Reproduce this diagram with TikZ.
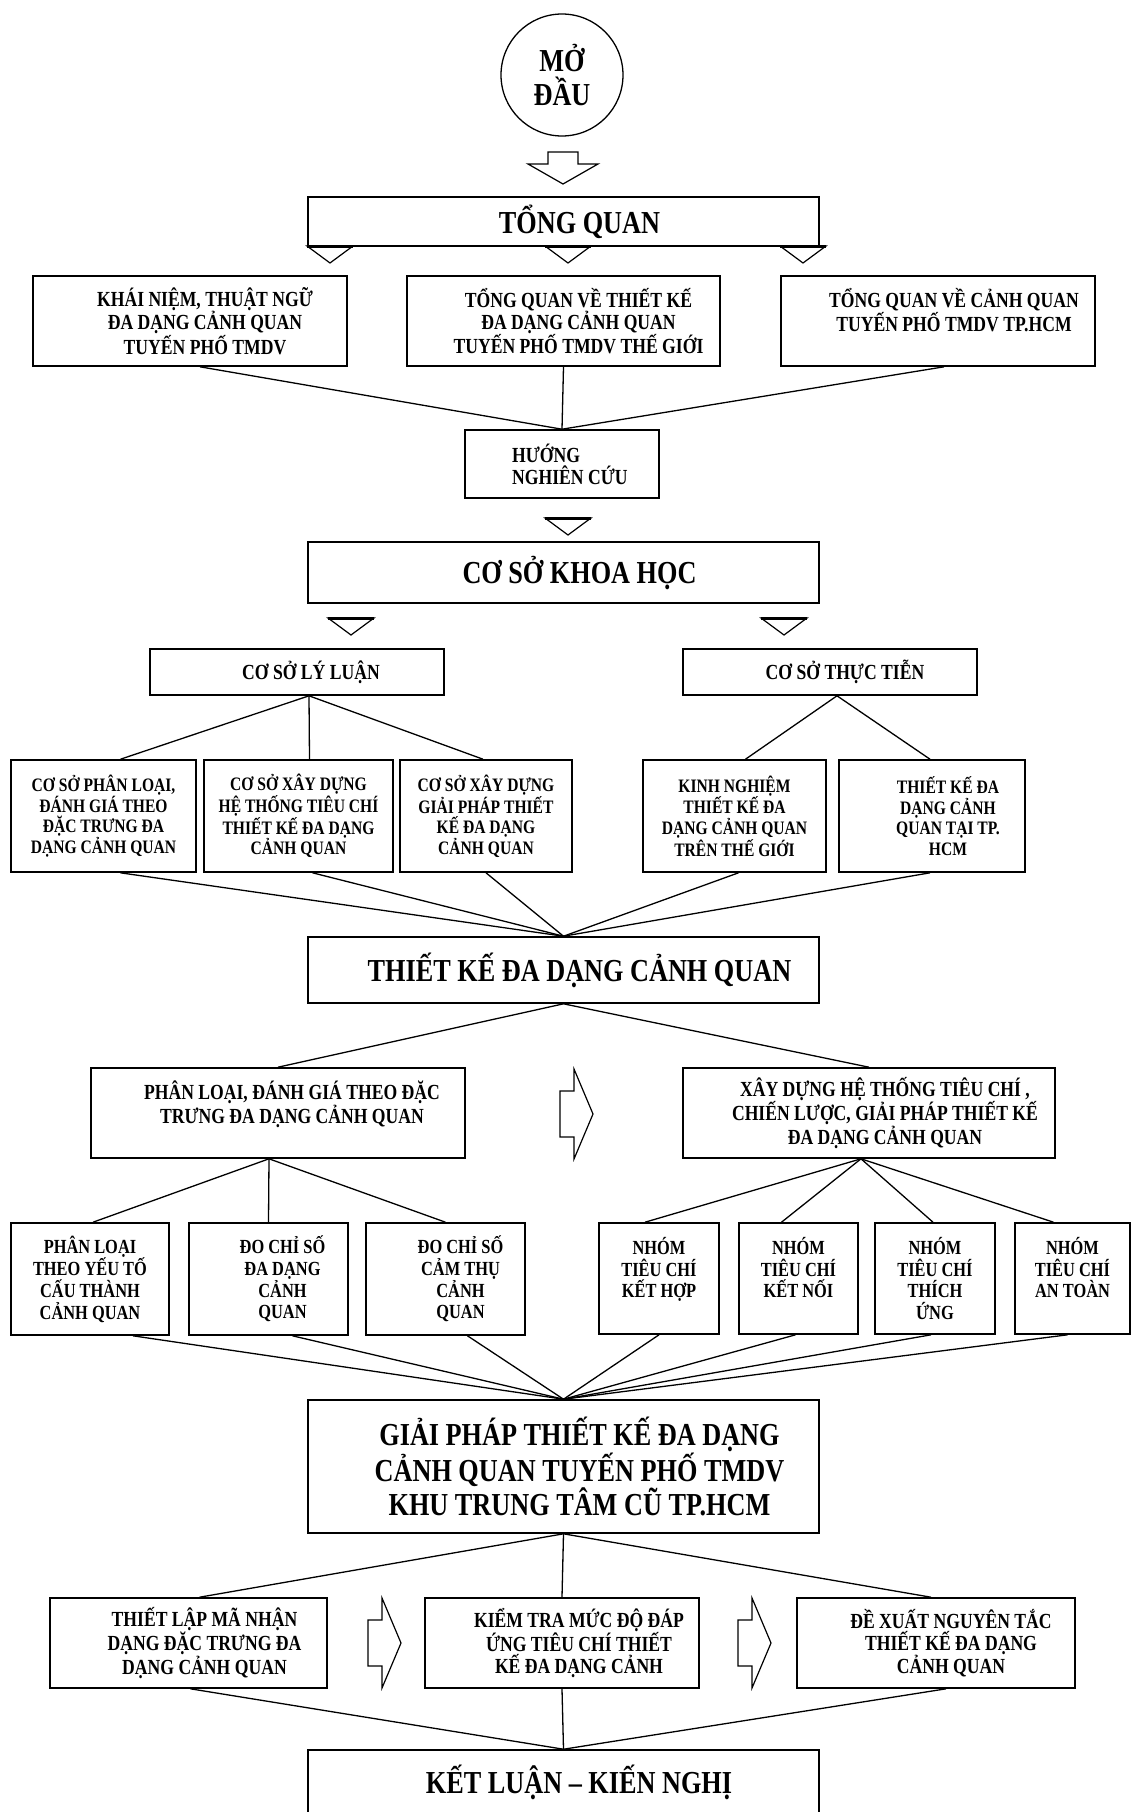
\documentclass[tikz,border=0pt]{standalone}
\usepackage{fontspec}
\newfontfamily\vnfont{Liberation Serif}[FakeStretch=0.82]
\usetikzlibrary{positioning}

\begin{document}
\begin{tikzpicture}[x=1pt,y=-1pt,
    b/.style={draw,line width=1.6pt,inner sep=0pt},
    t/.style={align=center,inner sep=0pt,font=\vnfont\bfseries\fontsize{21.5}{22}\selectfont},
    ts/.style={t,font=\vnfont\bfseries\fontsize{19}{20.5}\selectfont},
    tc/.style={t,font=\vnfont\bfseries\fontsize{20}{21.7}\selectfont},
    tb/.style={t,font=\vnfont\bfseries\fontsize{32}{34}\selectfont},
    l/.style={line width=1.3pt},
    hol/.style={draw,line width=1.2pt,fill=white,line join=miter},
    tri/.style={draw,line width=1.2pt,fill=white}]
  \fill[white] (0,0) rectangle (1133,1812);
  \useasboundingbox (0,0) rectangle (1133,1812);

  % start
  \node[b,circle,tb,line width=1.3pt,minimum size=122pt] (md) at (562,75) {MỞ\\ĐẦU};
  \draw[hol] (548,152) -- (578,152) -- (578,164) -- (598,164) -- (563,184)
    -- (528,164) -- (548,164) -- cycle;

  % tong quan
  \node[b,minimum width=511pt,minimum height=49pt] (tq) at (563.5,221.5) {};
  \node[tb] (tq-t) at ([xshift=16pt]tq.center) {TỔNG QUAN};
  \node[b,minimum width=314pt,minimum height=90pt] (kn) at (190,321) {};
  \node[t] (kn-t) at ([xshift=15pt]kn.center) {KHÁI NIỆM, THUẬT NGỮ\\ĐA DẠNG CẢNH QUAN\\TUYẾN PHỐ TMDV};
  \node[b,minimum width=313pt,minimum height=90pt] (tqtk) at (563.5,321) {};
  \node[t] (tqtk-t) at ([xshift=15pt]tqtk.center) {TỔNG QUAN VỀ THIẾT KẾ\\ĐA DẠNG CẢNH QUAN\\TUYẾN PHỐ TMDV THẾ GIỚI};
  \node[b,minimum width=314pt,minimum height=90pt] (tqcq) at (938,321) {};
  \node[t] (tqcq-t) at ([xshift=16pt]tqcq.center) {TỔNG QUAN VỀ CẢNH QUAN\\TUYẾN PHỐ TMDV TP.HCM\\~};
  \node[b,minimum width=194pt,minimum height=68pt] (hnc) at (562,464) {};
  \node[t,align=left,anchor=west] (hnc-t) at (512,464) {HƯỚNG\\NGHIÊN CỨU};

  % co so khoa hoc
  \node[b,minimum width=511pt,minimum height=61pt] (cskh) at (563.5,572.5) {};
  \node[tb] (cskh-t) at ([xshift=16pt]cskh.center) {CƠ SỞ KHOA HỌC};
  \node[b,minimum width=294pt,minimum height=46pt] (csll) at (297,672) {};
  \node[t] (csll-t) at ([xshift=14pt]csll.center) {CƠ SỞ LÝ LUẬN};
  \node[b,minimum width=294pt,minimum height=46pt] (cstt) at (830,672) {};
  \node[t] (cstt-t) at ([xshift=15pt]cstt.center) {CƠ SỞ THỰC TIỄN};
  \node[b,minimum width=185pt,minimum height=112pt] (b1) at (103.5,816) {};
  \node[ts] (b1-t) at (b1.center) {CƠ SỞ PHÂN LOẠI,\\ĐÁNH GIÁ THEO\\ĐẶC TRƯNG ĐA\\DẠNG CẢNH QUAN};
  \node[b,minimum width=189pt,minimum height=112pt] (b2) at (298.5,816) {};
  \node[ts] (b2-t) at (b2.center) {CƠ SỞ XÂY DỰNG\\HỆ THỐNG TIÊU CHÍ\\THIẾT KẾ ĐA DẠNG\\CẢNH QUAN};
  \node[b,minimum width=172pt,minimum height=112pt] (b3) at (486,816) {};
  \node[ts] (b3-t) at (b3.center) {CƠ SỞ XÂY DỰNG\\GIẢI PHÁP THIẾT\\KẾ ĐA DẠNG\\CẢNH QUAN};
  \node[b,minimum width=183pt,minimum height=112pt] (b4) at (734.5,816) {};
  \node[ts] (b4-t) at (b4.center) {KINH NGHIỆM\\THIẾT KẾ ĐA\\DẠNG CẢNH QUAN\\TRÊN THẾ GIỚI};
  \node[b,minimum width=186pt,minimum height=112pt] (b5) at (932,816) {};
  \node[ts] (b5-t) at ([xshift=16pt]b5.center) {THIẾT KẾ ĐA\\DẠNG CẢNH\\QUAN TẠI TP.\\HCM};

  % thiet ke
  \node[b,minimum width=511pt,minimum height=66pt] (tkdd) at (563.5,970) {};
  \node[tb] (tkdd-t) at ([xshift=16pt]tkdd.center) {THIẾT KẾ ĐA DẠNG CẢNH QUAN};
  \node[b,minimum width=374pt,minimum height=90pt] (pl) at (278,1113) {};
  \node[t] (pl-t) at ([xshift=14pt]pl.center) {PHÂN LOẠI, ĐÁNH GIÁ THEO ĐẶC\\TRƯNG ĐA DẠNG CẢNH QUAN\\~};
  \node[b,minimum width=372pt,minimum height=90pt] (xd) at (869,1113) {};
  \node[t] (xd-t) at ([xshift=16pt]xd.center) {XÂY DỰNG HỆ THỐNG TIÊU CHÍ ,\\CHIẾN LƯỢC, GIẢI PHÁP THIẾT KẾ\\ĐA DẠNG CẢNH QUAN};
  \node[b,minimum width=158pt,minimum height=112pt] (c1) at (90,1279) {};
  \node[tc] (c1-t) at (c1.center) {PHÂN LOẠI\\THEO YẾU TỐ\\CẤU THÀNH\\CẢNH QUAN};
  \node[b,minimum width=159pt,minimum height=112pt] (c2) at (268.5,1279) {};
  \node[tc] (c2-t) at ([xshift=14pt]c2.center) {ĐO CHỈ SỐ\\ĐA DẠNG\\CẢNH\\QUAN};
  \node[b,minimum width=159pt,minimum height=112pt] (c3) at (445.5,1279) {};
  \node[tc] (c3-t) at ([xshift=15pt]c3.center) {ĐO CHỈ SỐ\\CẢM THỤ\\CẢNH\\QUAN};
  \node[b,minimum width=120pt,minimum height=111pt] (c4) at (659,1278.5) {};
  \node[tc] (c4-t) at (c4.center) {NHÓM\\TIÊU CHÍ\\KẾT HỢP\\~};
  \node[b,minimum width=119pt,minimum height=111pt] (c5) at (798.5,1278.5) {};
  \node[tc] (c5-t) at (c5.center) {NHÓM\\TIÊU CHÍ\\KẾT NỐI\\~};
  \node[b,minimum width=120pt,minimum height=111pt] (c6) at (935,1278.5) {};
  \node[tc] (c6-t) at (c6.center) {NHÓM\\TIÊU CHÍ\\THÍCH\\ỨNG};
  \node[b,minimum width=115pt,minimum height=111pt] (c7) at (1072.5,1278.5) {};
  \node[tc] (c7-t) at (c7.center) {NHÓM\\TIÊU CHÍ\\AN TOÀN\\~};

  % giai phap
  \node[b,minimum width=511pt,minimum height=133pt] (gp) at (563.5,1466.5) {};
  \node[tb] (gp-t) at ([xshift=16pt]gp.center) {GIẢI PHÁP THIẾT KẾ ĐA DẠNG\\CẢNH QUAN TUYẾN PHỐ TMDV\\KHU TRUNG TÂM CŨ TP.HCM};
  \node[b,minimum width=277pt,minimum height=90pt] (d1) at (188.5,1643) {};
  \node[t] (d1-t) at ([xshift=16pt]d1.center) {THIẾT LẬP MÃ NHẬN\\DẠNG ĐẶC TRƯNG ĐA\\DẠNG CẢNH QUAN};
  \node[b,minimum width=274pt,minimum height=90pt] (d2) at (562,1643) {};
  \node[t] (d2-t) at ([xshift=17pt]d2.center) {KIỂM TRA MỨC ĐỘ ĐÁP\\ỨNG TIÊU CHÍ THIẾT\\KẾ ĐA DẠNG CẢNH};
  \node[b,minimum width=278pt,minimum height=90pt] (d3) at (936,1643) {};
  \node[t] (d3-t) at ([xshift=15pt]d3.center) {ĐỀ XUẤT NGUYÊN TẮC\\THIẾT KẾ ĐA DẠNG\\CẢNH QUAN};
  \node[b,minimum width=511pt,minimum height=100pt] (kl) at (563.5,1800) {};
  \node[tb] (kl-t) at (579,1782) {KẾT LUẬN – KIẾN NGHỊ};

  % small triangles and hollow arrows
  \foreach \x/\y in {330/246,568/246,803/246,568/518,351/618,784/618} {
    \draw[tri] (\x-23,\y) -- (\x+23,\y) -- (\x,\y+17) -- cycle;
    \draw[line width=3pt] (\x-23,\y) -- (\x+23,\y);
  }
  \foreach \p in {(593,1114),(401,1643),(771,1643)}
    \draw[hol] \p -- ++(-19,-45) -- ++(0,22) -- ++(-14,0) -- ++(0,46)
      -- ++(14,0) -- ++(0,22) -- cycle;

  % connectors
  \draw[l] ([xshift=10pt]kn.south) -- (hnc.north);
  \draw[l] (tqtk.south) -- (hnc.north);
  \draw[l] ([xshift=6pt]tqcq.south) -- (hnc.north);
  \foreach \n/\s in {b1/17,b2/11,b3/-3}
    \draw[l] ([xshift=12pt]csll.south) -- ([xshift=\s pt]\n.north);
  \foreach \n/\s in {b4/11,b5/-2}
    \draw[l] ([xshift=7pt]cstt.south) -- ([xshift=\s pt]\n.north);
  \foreach \n/\s in {b1/17,b2/14,b3/0,b4/4,b5/-2}
    \draw[l] ([xshift=\s pt]\n.south) -- (tkdd.north);
  \draw[l] (tkdd.south) -- (pl.north);
  \draw[l] (tkdd.south) -- (xd.north);
  \foreach \n/\s in {c1/3,c2/0,c3/0}
    \draw[l] ([xshift=-9pt]pl.south) -- ([xshift=\s pt]\n.north);
  \foreach \n/\s in {c4/-14,c5/-17,c6/-2,c7/-19}
    \draw[l] ([xshift=-8pt]xd.south) -- ([xshift=\s pt]\n.north);
  \foreach \n/\s in {c1/43,c2/24,c3/22,c4/0,c5/-3,c6/-4,c7/-5}
    \draw[l] ([xshift=\s pt]\n.south) -- (gp.north);
  \foreach \n/\s in {d1/11,d2/0,d3/-5}
    \draw[l] (gp.south) -- ([xshift=\s pt]\n.north);
  \foreach \n/\s in {d1/2,d2/0,d3/10}
    \draw[l] ([xshift=\s pt]\n.south) -- (kl.north);
\end{tikzpicture}
\end{document}
